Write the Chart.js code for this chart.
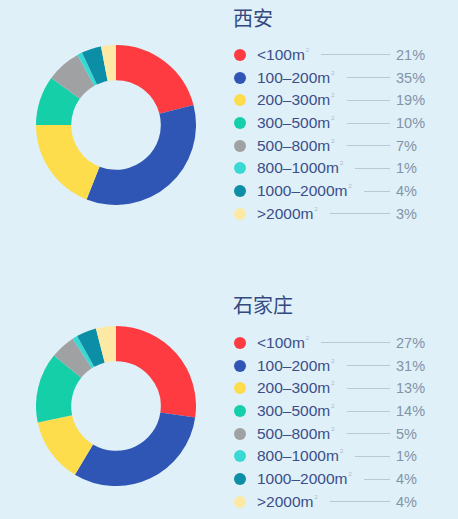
<!DOCTYPE html>
<html>
<head>
<meta charset="utf-8">
<script src="https://cdn.jsdelivr.net/npm/chart.js@4/dist/chart.umd.min.js"></script>
<style>
  html, body { margin: 0; padding: 0; }
  body {
    width: 458px; height: 519px; position: relative; overflow: hidden;
    background: #dff0f9;
    font-family: "Liberation Sans", "Noto Sans", sans-serif;
  }
  .pie { position: absolute; left: 36px; width: 160px; height: 160px; }
  .title {
    position: absolute; left: 233px;
    font-family: "Noto Sans CJK SC", sans-serif;
    font-size: 20px; color: #34497f; line-height: 24px;
  }
  .legend { position: absolute; left: 234px; width: 196px; }
  .row { display: flex; align-items: center; height: 22.7px; }
  .dot { width: 12px; height: 12px; border-radius: 50%; flex: none; }
  .lbl { margin-left: 11px; font-size: 15.5px; color: #3b4e88; white-space: nowrap; }
  .lbl sup { font-size: 6px; color: #a9b8ca; vertical-align: 8px; margin-left: 1px; }
  .line { flex: 1; height: 1px; background: #b9cad6; margin: 0 6px 0 12px; }
  .pct { width: 34px; font-size: 14.5px; color: #8493a6; }
</style>
</head>
<body>
<canvas id="c1" class="pie" width="160" height="160" style="top:45px"></canvas>
<canvas id="c2" class="pie" width="160" height="160" style="top:326px"></canvas>
<div class="title" style="top:6px">西安</div>
<div class="legend" id="lg1" style="top:43.6px"></div>
<div class="title" style="top:293px">石家庄</div>
<div class="legend" id="lg2" style="top:331.6px"></div>
<script>
// area ranges
var sizeLabels = ['<100', '100–200', '200–300', '300–500', '500–800', '800–1000', '1000–2000', '>2000'];
var xianValues = [21, 35, 19, 10, 7, 1, 4, 3];
var sjzValues  = [27, 31, 13, 14, 5, 1, 4, 4];
var colors = ['#fd3b40', '#2f56b4', '#fddd4c', '#14cfa8', '#a0a1a3', '#3ad8d2', '#0c8ea6', '#fde9a4'];

function makeLegend(id, values) {
  var html = '';
  for (var i = 0; i < sizeLabels.length; i++) {
    var t = sizeLabels[i].replace('<', '&lt;').replace('>', '&gt;');
    html += '<div class="row">' +
      '<span class="dot" style="background:' + colors[i] + '"></span>' +
      '<span class="lbl">' + t + 'm<sup>2</sup></span>' +
      '<span class="line"></span>' +
      '<span class="pct">' + values[i] + '%</span></div>';
  }
  document.getElementById(id).innerHTML = html;
}

function makePie(id, values) {
  var ctx = document.getElementById(id).getContext('2d');
  new Chart(ctx, {
    type: 'doughnut',
    data: {
      labels: sizeLabels,
      datasets: [{
        data: values,
        backgroundColor: colors,
        borderWidth: 0
      }]
    },
    options: {
      responsive: false,
      animation: false,
      cutout: '56%',
      layout: { padding: 0 },
      plugins: {
        legend: { display: false },
        tooltip: { enabled: false }
      }
    }
  });
}

makeLegend('lg1', xianValues);
makeLegend('lg2', sjzValues);
makePie('c1', xianValues);
makePie('c2', sjzValues);
</script>
</body>
</html>
